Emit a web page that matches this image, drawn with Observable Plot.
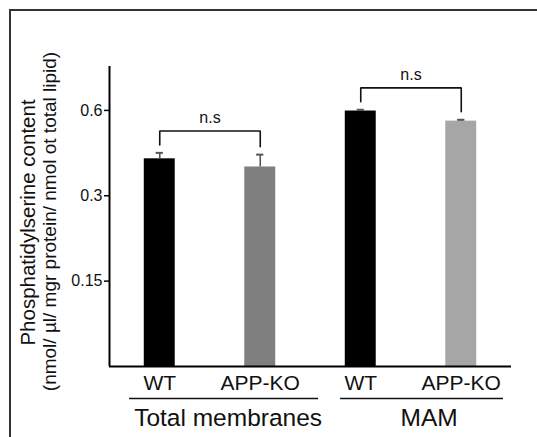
<!DOCTYPE html>
<html><head><meta charset="utf-8">
<script src="https://cdn.jsdelivr.net/npm/d3@7"></script>
<script src="https://cdn.jsdelivr.net/npm/@observablehq/plot@0.6"></script>
<style>
html,body{margin:0;padding:0;background:#fff;overflow:hidden;width:537px;height:437px;}
#wrap{position:relative;width:537px;height:437px;overflow:hidden;}
#frame{position:absolute;left:9px;top:9px;width:600px;height:600px;border-top:2px solid #333;border-left:2px solid #333;}
#chart{position:absolute;left:0;top:0;}
</style></head><body><div id="wrap"><div id="frame"></div><div id="chart"></div></div>
<script>
// ---- data ----
const categories = ["WT", "APP-KO", "WT", "APP-KO"];
const groupOf = ["Total membranes", "Total membranes", "MAM", "MAM"];
const values = [0.405, 0.379, 0.597, 0.55];
const errors = [0.020, 0.040, 0.006, 0.006];
const barColors = ["#000000", "#7f7f7f", "#000000", "#a6a6a6"];
const groupNames = ["Total membranes", "MAM"];
const comparisons = [[0, 1], [2, 3]];
const comparisonLabels = ["n.s", "n.s"];
const yTicks = [0.15, 0.3, 0.6];
const yDomain = [0.075, 0.857];
const yLabel1 = "Phosphatidylserine content";
const yLabel2 = "(nmol/ \u00b5l/ mgr protein/ nmol ot total lipid)";

// ---- style / layout constants ----
const halfBar = 0.154, capHalf = 0.036;
const legGap = 1.067, topGap = 1.12;
const groupOverhang = {"Total membranes": [0.3, 0.58], "MAM": [0.2, 0.42]};
const groupLabelShift = 0.18;

const bars = categories.map((c, i) => ({
  pos: i + 1, label: c, group: groupOf[i], value: values[i],
  top: values[i] + errors[i], color: barColors[i]
}));

const bracketPts = [];
const bracketLabels = [];
comparisons.forEach(([a, b], k) => {
  const la = bars[a].top * legGap, lb = bars[b].top * legGap;
  const t = Math.max(la, lb) * topGap;
  bracketPts.push({k, x: bars[a].pos, y: la}, {k, x: bars[a].pos, y: t},
                  {k, x: bars[b].pos, y: t}, {k, x: bars[b].pos, y: lb});
  bracketLabels.push({x: (bars[a].pos + bars[b].pos) / 2, y: t, text: comparisonLabels[k]});
});

const groups = groupNames.map(g => {
  const members = bars.filter(d => d.group === g);
  const first = members[0].pos, last = members[members.length - 1].pos;
  const [l, r] = groupOverhang[g];
  return {name: g, x1: first - l, x2: last + r, cx: (first + last) / 2 + groupLabelShift};
});

const plot = Plot.plot({
  width: 537, height: 437,
  marginLeft: 109, marginRight: 26, marginTop: 66, marginBottom: 71,
  style: {fontFamily: "'Liberation Sans', Arial, Helvetica, sans-serif", background: "transparent", color: "#111", overflow: "visible"},
  x: {domain: [0.5, 4.5], axis: null},
  y: {type: "log", domain: yDomain, axis: null},
  color: {type: "identity"},
  marks: [
    Plot.rectY(bars, {x1: d => d.pos - halfBar, x2: d => d.pos + halfBar, y1: yDomain[0], y2: "value", fill: "color"}),
    Plot.ruleX(bars, {x: "pos", y1: "value", y2: "top", stroke: "#555", strokeWidth: 1.6}),
    Plot.ruleY(bars, {y: "top", x1: d => d.pos - capHalf, x2: d => d.pos + capHalf, stroke: "#555", strokeWidth: 2}),
    Plot.line(bracketPts, {x: "x", y: "y", z: "k", stroke: "#111", strokeWidth: 1.6, strokeLinejoin: "miter"}),
    Plot.text(bracketLabels, {x: "x", y: "y", text: "text", dy: -13, fontSize: 16}),
    Plot.ruleX([0.5], {stroke: "#000", strokeWidth: 2}),
    Plot.ruleY([yDomain[0]], {stroke: "#000", strokeWidth: 2}),
    Plot.axisY({ticks: yTicks, tickFormat: d => String(d), tickSize: 5, tickPadding: 2, fontSize: 16, label: null, stroke: "#000", strokeWidth: 1.5}),
    Plot.text(bars, {x: "pos", text: "label", frameAnchor: "bottom", dy: 23, fontSize: 21}),
    Plot.ruleY(groups, {y: yDomain[0], x1: "x1", x2: "x2", dy: 32, stroke: "#111", strokeWidth: 1.6}),
    Plot.text(groups, {x: "cx", text: "name", frameAnchor: "bottom", dy: 59, fontSize: 24.5}),
    Plot.text([yLabel1], {text: d => d, frameAnchor: "left", textAnchor: "middle", rotate: -90, dx: -81, dy: 6, fontSize: 20.5}),
    Plot.text([yLabel2], {text: d => d, frameAnchor: "left", textAnchor: "middle", rotate: -90, dx: -60, dy: 5, fontSize: 19})
  ]
});
document.getElementById("chart").appendChild(plot);
</script>
</body></html>
